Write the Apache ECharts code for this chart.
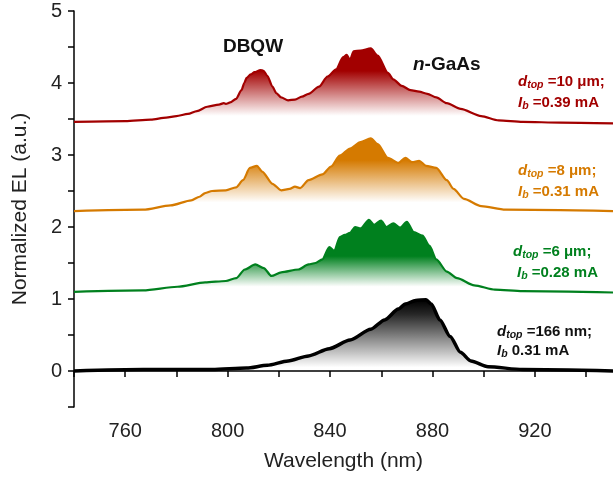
<!DOCTYPE html>
<html><head><meta charset="utf-8">
<script src="https://cdn.jsdelivr.net/npm/echarts@6/dist/echarts.min.js"></script>
<style>html,body{margin:0;padding:0;background:#fff}#c{width:613px;height:481px}</style>
</head><body><div id="c"></div>
<script>
// ---- data ----
const xTicks = [740, 760, 780, 800, 820, 840, 860, 880, 900, 920, 940];
const xTicksLabelled = [760, 800, 840, 880, 920];
const yTickLabels = [0, 1, 2, 3, 4, 5];

const redWl = [740,760,770,776,780,784.5,788,792,796.6,798.5,799.3,801,803.3,805.4,806.5,807.4,809,810.5,812.8,814,815.5,817.5,819,820.9,823.6,826.3,829,831.6,835.7,839,842.4,845.1,846.5,847.8,849.2,851.9,855.9,858.6,862.6,864.7,868,871.4,874.8,878,881.5,885.6,891,899,905.8,915.2,930,951];
const redEl = [3.46,3.47,3.49,3.52,3.54,3.57,3.61,3.67,3.70,3.72,3.71,3.73,3.78,3.90,4.00,4.07,4.12,4.15,4.18,4.17,4.10,3.95,3.86,3.80,3.76,3.77,3.81,3.85,3.95,4.09,4.19,4.36,4.39,4.32,4.44,4.45,4.48,4.38,4.14,4.05,3.96,3.90,3.88,3.85,3.80,3.72,3.64,3.54,3.48,3.46,3.45,3.44];

const orangeWl = [740,767,777.7,785.8,789,791.2,793.9,799.3,803.3,806,808.7,811.4,813.5,817.5,820.9,824.2,826.3,828.3,831.6,837,840.4,843.8,847.8,851.9,855.9,858.6,862.6,866.7,869.4,872.1,874.8,877.5,881.5,885.6,888.2,892.3,899,908.5,951];
const orangeEl = [2.22,2.24,2.30,2.37,2.42,2.47,2.50,2.51,2.55,2.65,2.82,2.85,2.77,2.60,2.51,2.53,2.56,2.54,2.65,2.73,2.84,2.99,3.09,3.18,3.23,3.15,2.96,2.89,2.96,2.90,2.92,2.85,2.82,2.65,2.53,2.39,2.29,2.24,2.22];

const greenWl = [740,767,780.4,791.2,799.3,803.3,806.7,810.8,814.1,817.1,820.9,827.6,831.6,834.3,837,839.7,841.7,843.8,845.8,847.8,849.8,851.9,855.2,857.2,859.9,862,864.7,867.4,870,872.7,876.1,878.8,881.5,885.6,889.6,896.3,904.4,915.2,951];
const greenEl = [1.10,1.12,1.17,1.23,1.25,1.29,1.41,1.48,1.43,1.32,1.37,1.41,1.48,1.50,1.55,1.72,1.67,1.86,1.89,1.92,2.00,1.98,2.10,2.03,2.09,2.00,2.05,1.99,2.07,1.93,1.88,1.74,1.55,1.38,1.29,1.19,1.13,1.11,1.09];

const blackWl = [740,767,794,807.4,815.5,823.6,831.6,839.7,847.8,855.9,861.3,866.7,869.4,873.4,877.5,879.5,882.9,886.9,890.9,895,901.7,915.2,951];
const blackEl = [0.00,0.02,0.02,0.04,0.08,0.14,0.21,0.31,0.43,0.58,0.71,0.86,0.93,0.98,0.99,0.93,0.71,0.48,0.26,0.14,0.06,0.02,0.00];

const seriesNames = ['d=10um','d=8um','d=6um','d=166nm'];
const baselines = [3.46, 2.22, 1.09, 0.0];
const colors = ['#A20000', '#D57A00', '#00801E', '#000000'];
const rgbs = ['162,0,0', '213,122,0', '0,128,30', '0,0,0'];

// ---- chart ----
const FONT = 'Arial, "Liberation Sans", sans-serif';
function pairs(w, v){ return w.map((x,i)=>[x, v[i]]); }
const wls = [redWl, orangeWl, greenWl, blackWl];
const els = [redEl, orangeEl, greenEl, blackEl];
const stops = [
  [[0,1],[0.3,1],[0.9,0]],
  [[0,1],[0.3,1],[0.88,0]],
  [[0,1],[0.5,1],[0.92,0]],
  [[0,1],[0.2,0.85],[0.95,0]]
];
const series = wls.map((w,i)=>({
  name: seriesNames[i], type:'line', data: pairs(w, els[i]),
  symbol:'none', showSymbol:false, smooth:0.25, smoothMonotone:'x',
  lineStyle:{color: colors[i], width: i===3 ? 3.5 : 2.2},
  areaStyle:{origin: baselines[i], opacity: 1,
    color: new echarts.graphic.LinearGradient(0,0,0,1,
      stops[i].map(s=>({offset:s[0], color:'rgba('+rgbs[i]+','+s[1]+')'})))},
  z: 2 + i
}));

function label(x, y, color, parts){
  const rich = {
    i:{fontSize:15, fontWeight:'bold', fontStyle:'italic', fontFamily:FONT, fill:color, lineHeight:18, verticalAlign:'middle'},
    s:{fontSize:10.5, fontWeight:'bold', fontStyle:'italic', fontFamily:FONT, fill:color, lineHeight:7, verticalAlign:'bottom'},
    n:{fontSize:15, fontWeight:'bold', fontFamily:FONT, fill:color, lineHeight:18, verticalAlign:'middle'}
  };
  return {type:'text', x:x, y:y, z:100, style:{text:parts, rich:rich, align:'left', verticalAlign:'middle', fill:color}};
}

const chart = echarts.init(document.getElementById('c'), null, {renderer:'canvas'});
chart.setOption({
  animation:false,
  backgroundColor:'#fff',
  grid:{left:74, top:11, bottom:74, right:0, containLabel:false},
  xAxis:{type:'value', min:740, max:950.5, interval:20,
    name:'Wavelength (nm)', nameLocation:'middle', nameGap:44,
    nameTextStyle:{fontSize:21, color:'#222', fontFamily:FONT},
    axisLine:{show:true, lineStyle:{color:'#000', width:1.5}},
    axisTick:{show:true, inside:false, length:6, customValues:xTicks, lineStyle:{color:'#000', width:1.5}},
    axisLabel:{fontSize:20, color:'#222', fontFamily:FONT, margin:14, customValues:xTicksLabelled,
      formatter:v=> xTicksLabelled.indexOf(v)>=0 ? String(v) : ''},
    splitLine:{show:false}},
  yAxis:{type:'value', min:-0.5, max:5, interval:0.5,
    name:'Normalized EL (a.u.)', nameLocation:'middle', nameGap:43, nameRotate:90,
    nameTextStyle:{fontSize:21, color:'#222', fontFamily:FONT},
    axisLine:{show:true, lineStyle:{color:'#000', width:1.5}},
    axisTick:{show:true, inside:false, length:6, lineStyle:{color:'#000', width:1.5}},
    axisLabel:{fontSize:20, color:'#222', fontFamily:FONT, margin:12,
      formatter:v=> yTickLabels.indexOf(v)>=0 ? String(v) : ''},
    splitLine:{show:false}},
  series: series,
  graphic:[
    {type:'text', x:253, y:47, z:100, style:{text:'DBQW', font:'bold 19px '+FONT, fill:'#111', align:'center', verticalAlign:'middle'}},
    {type:'text', x:413, y:65, z:100, style:{text:'{a|n}{b|-GaAs}', align:'left', verticalAlign:'middle',
      rich:{a:{fontSize:19, fontWeight:'bold', fontStyle:'italic', fontFamily:FONT, fill:'#111'},
            b:{fontSize:19, fontWeight:'bold', fontFamily:FONT, fill:'#111'}}}},
    label(518, 82, colors[0], '{i|d}{s|top}{n| =10 μm;}'),
    label(518, 103, colors[0], '{i|I}{s|b}{n| =0.39 mA}'),
    label(518, 171, colors[1], '{i|d}{s|top}{n| =8 μm;}'),
    label(518, 192, colors[1], '{i|I}{s|b}{n| =0.31 mA}'),
    label(513, 252, colors[2], '{i|d}{s|top}{n| =6 μm;}'),
    label(517, 273, colors[2], '{i|I}{s|b}{n| =0.28 mA}'),
    label(497, 332, '#111', '{i|d}{s|top}{n| =166 nm;}'),
    label(497, 351, '#111', '{i|I}{s|b}{n| 0.31 mA}')
  ]
});
</script></body></html>
